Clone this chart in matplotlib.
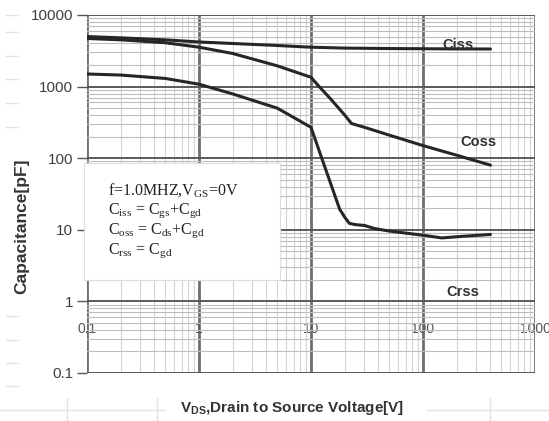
import matplotlib
matplotlib.use("Agg")
import matplotlib.pyplot as plt
import matplotlib.patches as mpatches
from matplotlib.lines import Line2D
from matplotlib.ticker import LogLocator, NullFormatter, FixedLocator, FixedFormatter

# ── Font setup: serif mathtext for the condition box, bold sans for labels ────
plt.rcParams["mathtext.fontset"] = "custom"
plt.rcParams["mathtext.rm"] = "Liberation Serif"
plt.rcParams["mathtext.it"] = "Liberation Serif"
plt.rcParams["mathtext.bf"] = "Liberation Sans:bold"
SANS = "Liberation Sans"
SERIF = "Liberation Serif"

# ── Data ──────────────────────────────────────────────────────────────────────
ciss_v = [0.1, 0.2, 0.5, 1, 2, 5, 10, 20, 50, 100, 200, 400]
ciss_pf = [5000, 4800, 4500, 4200, 4000, 3750, 3550, 3450, 3400, 3380, 3360, 3350]

coss_v = [0.1, 0.2, 0.5, 1, 2, 5, 10, 11.5, 15, 20, 23, 30, 50, 100, 200, 400]
coss_pf = [4700, 4500, 4100, 3550, 2900, 1950, 1350, 1050, 670, 400, 305, 270,
           210, 150, 110, 80]

crss_v = [0.1, 0.2, 0.5, 1, 2, 5, 10, 12, 15, 18, 20, 22, 25, 30, 37, 50,
          100, 147, 222, 400]
crss_pf = [1500, 1450, 1300, 1080, 790, 500, 270, 119, 44, 19.5, 15, 12.3,
           11.8, 11.5, 10.4, 9.6, 8.4, 7.7, 8.1, 8.6]

x_ticks = [0.1, 1, 10, 100, 1000]
x_tick_labels = ["0.1", "1", "10", "100", "1000"]
y_ticks = [0.1, 1, 10, 100, 1000, 10000]
y_tick_labels = ["0.1", "1", "10", "100", "1000", "10000"]

curve_names = ["Ciss", "Coss", "Crss"]
cond_lines = [
    r"f=1.0MHZ,V$_{GS}$=0V",
    r"C$_{iss}$ = C$_{gs}$+C$_{gd}$",
    r"C$_{oss}$ = C$_{ds}$+C$_{gd}$",
    r"C$_{rss}$ = C$_{gd}$",
]

W, H = 549, 421
fig = plt.figure(figsize=(W / 100, H / 100), dpi=100)
L, R, T, B = 87, 535, 15, 373
ax = fig.add_axes([L / W, 1 - B / H, (R - L) / W, (B - T) / H])

ax.set_xscale("log")
ax.set_yscale("log")
ax.set_xlim(0.1, 1000)
ax.set_ylim(0.1, 10000)

# ── Grid ──────────────────────────────────────────────────────────────────────
ax.xaxis.set_minor_locator(LogLocator(base=10, subs=range(2, 10)))
ax.yaxis.set_minor_locator(LogLocator(base=10, subs=range(2, 10)))
ax.xaxis.set_minor_formatter(NullFormatter())
ax.yaxis.set_minor_formatter(NullFormatter())
ax.grid(which="minor", axis="x", color="#d4d4d4", lw=0.8)
ax.grid(which="minor", axis="y", color="#bdbdbd", lw=0.8)
ax.grid(which="major", axis="x", color="#6e6e6e", lw=2.0)
ax.grid(which="major", axis="y", color="#5a5a5a", lw=1.4)
ax.set_axisbelow(True)
for s in ax.spines.values():
    s.set_visible(False)

# y ticks on the left, x tick labels hanging just below the 1 pF line
ax.yaxis.set_major_locator(FixedLocator(y_ticks))
ax.yaxis.set_major_formatter(FixedFormatter(y_tick_labels))
ax.tick_params(axis="y", which="major", length=7, width=1.0, color="#555555",
               labelsize=11, labelcolor="#404040", pad=3)
ax.tick_params(axis="y", which="minor", length=0)
ax.xaxis.set_major_locator(FixedLocator(x_ticks))
ax.xaxis.set_major_formatter(FixedFormatter(x_tick_labels))
ax.spines["bottom"].set_position(("data", 1))
ax.tick_params(axis="x", which="both", length=0, labelsize=10,
               labelcolor="#555555", pad=15)
for lbl in ax.get_xticklabels() + ax.get_yticklabels():
    lbl.set_family(SANS)

# ── Curves ────────────────────────────────────────────────────────────────────
for v, c in [(ciss_v, ciss_pf), (coss_v, coss_pf), (crss_v, crss_pf)]:
    ax.plot(v, c, color="#262626", lw=2.2, solid_joinstyle="round",
            solid_capstyle="round", zorder=5)

label_pos = [(150, 3800), (214, 167), (163, 1.34)]
for name, (lx, ly) in zip(curve_names, label_pos):
    ax.text(lx, ly, name, ha="left", va="center", fontsize=10.5,
            fontweight="bold", family=SANS, color="#333333", zorder=6)

# ── Condition box ─────────────────────────────────────────────────────────────
box = mpatches.Rectangle((-0.007, 0.260), 0.438, 0.327, transform=ax.transAxes,
                         facecolor="white", edgecolor="#dddddd", lw=0.8,
                         zorder=7, clip_on=False)
ax.add_patch(box)
for i, line in enumerate(cond_lines):
    ax.text(0.047, 0.51 - i * 0.056, line, transform=ax.transAxes,
            ha="left", va="center", fontsize=11.5, family=SERIF,
            color="#222222", zorder=8)

# ── Axis titles ───────────────────────────────────────────────────────────────
fig.text(22 / W, 1 - 226 / H, "Capacitance[pF]", rotation=90, ha="center",
         va="center", fontsize=12.5, fontweight="bold", family=SANS,
         color="#333333")
fig.text(292 / W, 1 - 408 / H, r"V$_{\mathbf{DS}}$,Drain to Source Voltage[V]",
         ha="center", va="center", fontsize=11, fontweight="bold",
         family=SANS, color="#333333")

# ── Faint worksheet cell borders around the chart ─────────────────────────────
faint = dict(color="#e2e2e2", lw=1.0, transform=fig.transFigure)
for yp in [15, 32, 56, 79, 103, 127, 316, 340, 363, 386]:
    fig.add_artist(Line2D([6 / W, 18 / W], [1 - yp / H] * 2, **faint))
fig.add_artist(Line2D([0, 165 / W], [1 - 410 / H] * 2, **faint))
fig.add_artist(Line2D([427 / W, 1], [1 - 410 / H] * 2, **faint))
for xp in [67, 157, 490]:
    fig.add_artist(Line2D([xp / W] * 2, [1 - 398 / H, 0], **faint))

fig.savefig("out.png", dpi=100)
